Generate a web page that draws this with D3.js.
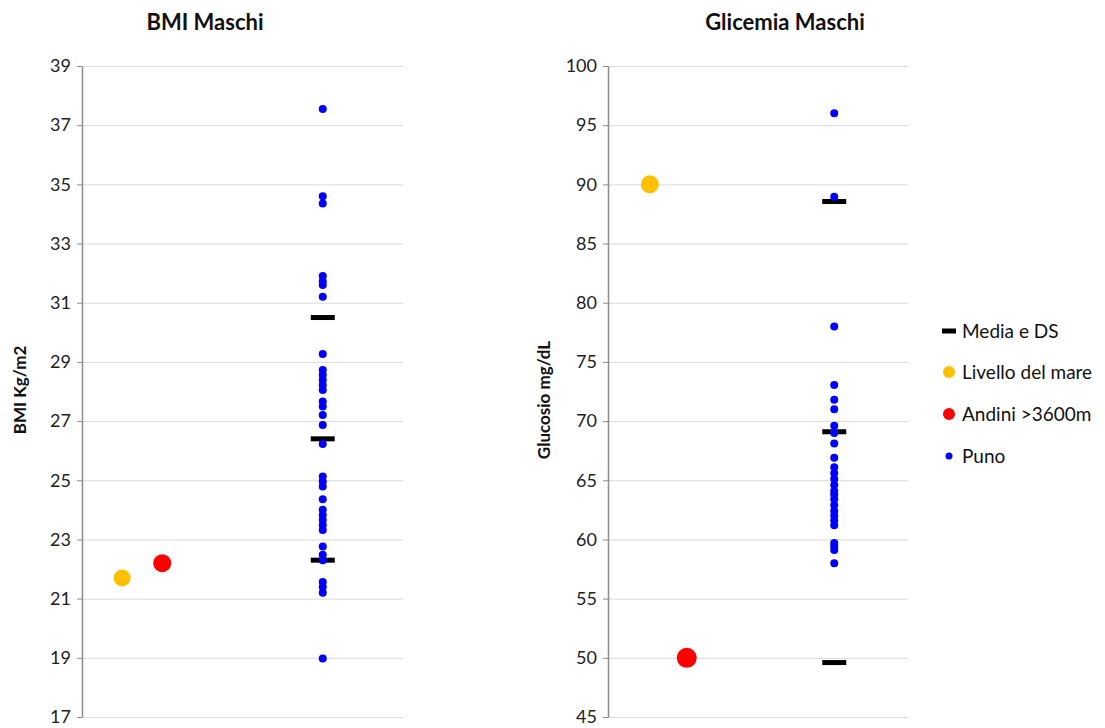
<!DOCTYPE html>
<html lang="it">
<head>
<meta charset="utf-8">
<title>BMI e Glicemia Maschi</title>
<script src="https://cdn.jsdelivr.net/npm/d3@7"></script>
<style>
  body { margin: 0; background: #fff; font-family: Lato, "Open Sans", sans-serif; }
  .axis path, .axis line { stroke: #8c8c8c; }
  .axis text { font-size: 18px; fill: #222; font-family: Lato, sans-serif; }
  .grid line { stroke: #d9d9d9; }
  .grid path { display: none; }
</style>
</head>
<body>
<script>
// categories placed on a 0..8 x range (Excel-style scatter)
var groups = ["Livello del mare", "Andini >3600m", "Puno"];
var groupX = [1, 2, 6];

// BMI (Kg/m2)
var bmiTicks = [17, 19, 21, 23, 25, 27, 29, 31, 33, 35, 37, 39];
var bmiLivello = 21.7;
var bmiAndini = 22.2;
var bmiMediaDS = [30.5, 26.4, 22.3];
var bmiPuno = [37.55, 34.6, 34.35, 31.9, 31.73, 31.6, 31.2, 29.27, 28.73, 28.56, 28.39,
               28.22, 28.05, 27.66, 27.49, 27.21, 26.87, 26.23, 25.13, 24.96, 24.79, 24.36,
               24.0, 23.83, 23.66, 23.49, 23.32, 22.76, 22.48, 22.3, 21.56, 21.39, 21.2, 18.98];

// Glicemia (mg/dL)
var gluTicks = [45, 50, 55, 60, 65, 70, 75, 80, 85, 90, 95, 100];
var gluLivello = 90;
var gluAndini = 50;
var gluMediaDS = [88.55, 69.1, 49.6];
var gluPuno = [96, 88.96, 78, 73.05, 71.8, 71.0, 69.6, 69.0, 68.1, 66.9, 66.1, 65.6, 65.1,
               64.6, 64.1, 63.8, 63.4, 62.9, 62.4, 62.0, 61.6, 61.2, 59.7, 59.4, 59.1, 58.0];

var legendItems = ["Media e DS", "Livello del mare", "Andini >3600m", "Puno"];

var w = 1105, h = 728;
var svg = d3.select("body").append("svg").attr("width", w).attr("height", h);

function drawPanel(opt) {
  var x = d3.scaleLinear().domain([0, 8]).range([opt.markLeft, opt.right]);
  var y = d3.scaleLinear().domain(opt.domain).range([717, 66]);

  var g = svg.append("g");

  g.append("g").attr("class", "grid")
    .attr("transform", "translate(" + opt.left + ",0)")
    .call(d3.axisLeft(y).tickValues(opt.ticks).tickSize(-(opt.right - opt.left)).tickFormat(""));

  var ax = g.append("g").attr("class", "axis")
    .attr("transform", "translate(" + opt.left + ",0)")
    .call(d3.axisLeft(y).tickValues(opt.ticks).tickSize(5).tickSizeOuter(0).tickPadding(6));
  ax.select(".domain").attr("stroke-width", 1.5);

  g.append("text")
    .attr("x", opt.titleX).attr("y", 30)
    .attr("text-anchor", "middle")
    .style("font-size", "22px").style("font-weight", "bold").style("fill", "#111")
    .text(opt.title);

  g.append("text")
    .attr("transform", "translate(" + opt.labelX + "," + opt.labelY + ") rotate(-90)")
    .attr("text-anchor", "middle")
    .style("font-size", "17px").style("font-weight", "bold").style("fill", "#111")
    .text(opt.ylabel);

  // media e DS
  g.selectAll(".media").data(opt.media).enter().append("rect")
    .attr("x", x(groupX[2]) - 12).attr("y", function(d) { return y(d) - 2.5; })
    .attr("width", 24).attr("height", 5).attr("fill", "#000");

  // Puno
  g.selectAll(".puno").data(opt.puno).enter().append("circle")
    .attr("cx", x(groupX[2])).attr("cy", function(d) { return y(d); })
    .attr("r", 4).attr("fill", "#0000ff");

  g.append("circle").attr("cx", x(groupX[0])).attr("cy", y(opt.livello))
    .attr("r", opt.rL).attr("fill", "#ffc000");
  g.append("circle").attr("cx", x(groupX[1])).attr("cy", y(opt.andini))
    .attr("r", opt.rA).attr("fill", "#ff0000");
}

drawPanel({ left: 82, markLeft: 82, right: 403, domain: [17, 39], ticks: bmiTicks,
  title: "BMI Maschi", titleX: 205,
  ylabel: "BMI Kg/m2", labelX: 26, labelY: 390,
  media: bmiMediaDS, puno: bmiPuno, livello: bmiLivello, andini: bmiAndini, rL: 8.5, rA: 9 });

drawPanel({ left: 608, markLeft: 613, right: 908, domain: [45, 100], ticks: gluTicks,
  title: "Glicemia Maschi", titleX: 785,
  ylabel: "Glucosio mg/dL", labelX: 550, labelY: 400,
  media: gluMediaDS, puno: gluPuno, livello: gluLivello, andini: gluAndini, rL: 9, rA: 10 });

// legend
var leg = svg.append("g").attr("transform", "translate(949,0)");
var legY = [331, 372, 414, 456];
legendItems.forEach(function(name, i) {
  var row = leg.append("g").attr("transform", "translate(0," + legY[i] + ")");
  if (i === 0) row.append("rect").attr("x", -7).attr("y", -2.5).attr("width", 14).attr("height", 5).attr("fill", "#000");
  if (i === 1) row.append("circle").attr("r", 6).attr("fill", "#ffc000");
  if (i === 2) row.append("circle").attr("r", 6).attr("fill", "#ff0000");
  if (i === 3) row.append("circle").attr("r", 3.5).attr("fill", "#0000ff");
  row.append("text").attr("x", 13).attr("y", 6.5)
    .style("font-size", "19px").style("fill", "#111").text(name);
});
</script>
</body>
</html>
